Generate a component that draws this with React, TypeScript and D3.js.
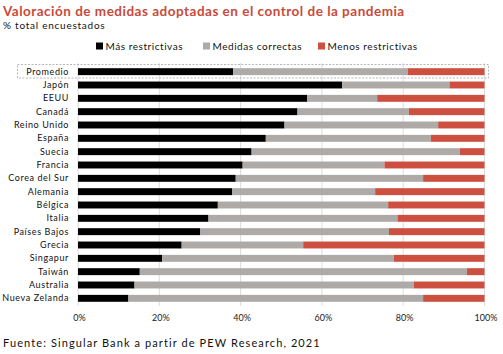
import * as d3 from "d3";

const paises = [
  "Promedio", "Japón", "EEUU", "Canadá", "Reino Unido", "España", "Suecia", "Francia",
  "Corea del Sur", "Alemania", "Bélgica", "Italia", "Países Bajos", "Grecia",
  "Singapur", "Taiwán", "Australia", "Nueva Zelanda",
];
const masRestrictivas = [38.2, 65.0, 56.4, 54.0, 50.8, 46.2, 42.7, 40.5, 38.8, 37.9, 34.4, 32.1, 30.1, 25.5, 20.7, 15.2, 13.9, 12.4];
const medidasCorrectas = [42.9, 26.4, 17.2, 27.4, 37.8, 40.6, 51.2, 34.9, 46.1, 35.2, 41.9, 46.5, 46.4, 29.9, 57.0, 80.5, 68.7, 72.5];
const menosRestrictivas = [18.9, 8.6, 26.4, 18.6, 11.4, 13.2, 6.1, 24.6, 15.1, 26.9, 23.7, 21.4, 23.5, 44.6, 22.3, 4.3, 17.4, 15.1];
const series = ["Más restrictivas", "Medidas correctas", "Menos restrictivas"];
const colores = ["#000000", "#aeaaa8", "#cd4f3f"];
const ticks = [0, 20, 40, 60, 80, 100];

const FONT = "Lato, 'DejaVu Sans', sans-serif";

export default function App() {
  const W = 503;
  const H = 354;
  const x = d3.scaleLinear().domain([0, 100]).range([78, 484.5]);
  const y = d3.scaleBand<string>().domain(paises).range([65, 305]).paddingInner(0.48).paddingOuter(0.24);

  const rows = paises.map((p, i) => ({ p, vals: [masRestrictivas[i], medidasCorrectas[i], menosRestrictivas[i]] }));
  const stacked = d3.stack<{ p: string; vals: number[] }, number>()
    .keys([0, 1, 2])
    .value((d, k) => d.vals[k])(rows);

  const legendX = [96, 203, 318];

  return (
    <svg width={W} height={H} style={{ position: "absolute", left: 0, top: 0, background: "#fff" }} fontFamily={FONT}>
      <text x={3} y={15.5} fill="#c94a3a" fontSize={13.5} fontWeight="bold" letterSpacing={0.5}>Valoración de medidas adoptadas en el control de la pandemia</text>
      <text x={3} y={28.5} fill="#111" fontSize={10} letterSpacing={0.75}>% total encuestados</text>

      {series.map((s, i) => (
        <g key={s} transform={`translate(${legendX[i]},46)`}>
          <rect x={0} y={-3.5} width={7} height={7} fill={colores[i]} />
          <text x={9.5} y={3.5} fontSize={10} fill="#111" letterSpacing={0.55}>{s}</text>
        </g>
      ))}

      {ticks.map((t) => (
        <g key={t}>
          <line x1={x(t)} x2={x(t)} y1={63} y2={306} stroke="#dcdcdc" strokeWidth={1} />
          <text x={x(t) + 1.5} y={321} textAnchor="middle" fontSize={9} fill="#222">{t}%</text>
        </g>
      ))}

      <rect x={17.5} y={64.5} width={471} height={13.5} fill="none" stroke="#b8b8b8" strokeDasharray="2,1.5" strokeWidth={1} />

      {stacked.map((layer, k) => (
        <g key={k} fill={colores[k]}>
          {layer.map((d, i) => (
            <rect key={i} x={x(d[0])} y={y(paises[i])} width={x(d[1]) - x(d[0])} height={y.bandwidth()} />
          ))}
        </g>
      ))}

      {paises.map((p) => (
        <text key={p} x={69} y={(y(p) ?? 0) + y.bandwidth() / 2} dy="0.35em" textAnchor="end" fontSize={9} fill="#111" letterSpacing={0.6}>{p}</text>
      ))}

      <text x={3} y={347} fontSize={11} fill="#111" letterSpacing={1.1}>Fuente: Singular Bank a partir de PEW Research, 2021</text>
    </svg>
  );
}
